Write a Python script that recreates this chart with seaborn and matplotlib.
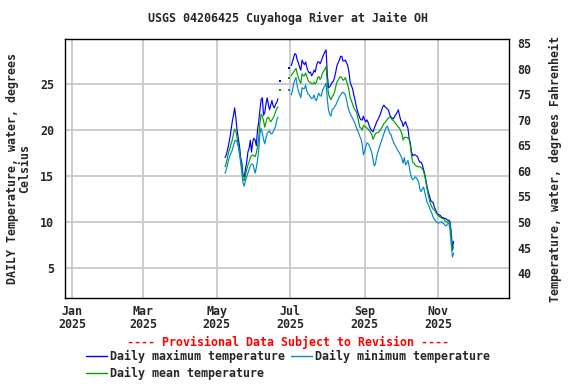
import matplotlib
matplotlib.use("Agg")
import matplotlib.pyplot as plt
import matplotlib.dates as mdates
import numpy as np
import pandas as pd
import seaborn as sns

nan = np.nan

# daily values, starting 2025-05-08 (deg C)
START_DATE = "2025-05-08"

max_temp = [
    17.0, 17.3, 17.8, 18.4, 19.1, 20.0, 20.9, 21.6, 22.4, 21.3,
    20.0, 19.1, 18.3, 17.0, 16.4, 15.0, 14.9, 15.8, 16.5, 17.6,
    18.0, 18.9, 17.6, 18.7, 19.1, 18.9, 18.3, 20.0, 20.9, 22.2,
    23.3, 23.5, 21.6, 21.9, 22.8, 23.5, 22.8, 22.2, 22.7, 23.2,
    22.6, 22.4, 22.8, 23.0, 23.4, nan, 25.3, nan, nan, nan,
    nan, nan, nan, 26.7, nan, 27.0, 27.4, 27.9, 28.3, 28.2,
    27.6, 27.3, 26.8, 26.5, 27.6, 27.3, 27.1, 27.4, 26.8, 26.4,
    26.2, 26.3, 25.9, 26.1, 26.5, 26.3, 27.0, 27.4, 27.4, 27.2,
    27.5, 27.9, 28.2, 28.5, 28.7, 26.0, 24.6, 24.7, 24.9, 25.2,
    25.3, 25.7, 26.3, 27.0, 27.3, 27.6, 28.0, 28.0, 27.5, 27.5,
    27.6, 27.3, 27.0, 26.3, 25.2, 24.8, 24.5, 23.8, 23.3, 22.6,
    22.1, 21.7, 21.3, 21.1, 21.1, 21.5, 21.1, 20.9, 21.1, 20.8,
    20.4, 20.1, 19.9, 19.8, 20.2, 20.5, 20.9, 21.1, 21.4, 21.7,
    22.1, 22.5, 22.7, 22.5, 22.4, 22.3, 22.1, 21.6, 21.4, 21.3,
    21.2, 21.5, 21.7, 21.9, 22.2, 21.6, 21.1, 20.9, 20.4, 20.7,
    20.9, 20.5, 20.2, 19.1, 18.6, 17.6, 17.2, 17.3, 17.3, 17.2,
    17.1, 16.7, 16.5, 16.5, 16.2, 15.7, 15.2, 14.5, 13.8, 13.2,
    12.8, 12.3, 12.2, 12.1, 11.6, 11.3, 11.0, 10.8, 10.8, 10.7,
    10.5, 10.5, 10.4, 10.4, 10.3, 10.2, 10.2, 10.0, 8.8, 7.2,
    7.9,
]

mean_temp = [
    16.0, 16.4, 17.0, 17.6, 18.0, 18.5, 18.9, 19.6, 20.1, 19.9,
    19.2, 18.4, 17.6, 16.7, 15.9, 14.7, 14.5, 15.1, 15.7, 16.2,
    16.5, 17.0, 17.2, 17.3, 17.2, 17.1, 17.5, 18.2, 19.1, 20.8,
    21.7, 21.5, 21.0, 20.3, 20.8, 21.3, 21.4, 21.1, 20.9, 21.1,
    21.3, 21.6, 22.0, 22.3, 22.5, nan, 24.3, nan, nan, nan,
    nan, nan, nan, 25.6, nan, 25.9, 26.1, 26.3, 26.5, 26.7,
    26.1, 25.7, 25.3, 25.1, 26.1, 25.9, 25.9, 26.2, 25.8, 25.4,
    25.2, 25.2, 25.0, 25.0, 25.2, 25.0, 25.2, 25.7, 25.8, 25.5,
    25.7, 26.2, 26.4, 26.6, 26.9, 25.1, 23.9, 23.5, 23.3, 23.6,
    23.8, 24.1, 24.7, 25.2, 25.4, 25.7, 25.8, 25.7, 25.4, 25.5,
    25.7, 25.3, 24.9, 24.3, 23.5, 23.2, 22.8, 22.4, 22.2, 22.0,
    21.6, 20.9, 20.3, 20.2, 20.0, 20.5, 20.4, 20.3, 20.2, 20.1,
    19.9, 19.7, 19.5, 19.0, 19.3, 19.6, 19.7, 19.7, 19.8, 20.0,
    20.2, 20.4, 20.7, 20.8, 21.0, 21.2, 21.3, 21.4, 21.3, 21.1,
    21.0, 20.8, 20.7, 20.5, 20.3, 20.2, 19.9, 19.6, 18.9, 19.2,
    19.2, 19.2, 19.1, 19.0, 18.3, 17.2, 16.5, 16.4, 16.2, 16.1,
    16.0, 16.0, 16.0, 15.9, 15.8, 15.5, 15.0, 14.3, 13.5, 12.9,
    12.3, 11.9, 11.6, 11.4, 11.3, 11.1, 10.9, 10.7, 10.6, 10.5,
    10.4, 10.4, 10.3, 10.1, 10.0, 10.0, 10.0, 9.9, 8.3, 6.9,
    7.3,
]

min_temp = [
    15.3, 15.7, 16.2, 16.8, 17.2, 17.5, 17.8, 18.3, 18.8, 18.9,
    18.7, 18.2, 17.4, 16.4, 15.3, 14.2, 13.9, 14.5, 14.9, 15.3,
    15.7, 16.1, 16.3, 16.3, 15.9, 15.3, 15.9, 16.7, 17.8, 19.6,
    20.2, 19.6, 19.0, 18.5, 19.1, 19.6, 19.8, 19.9, 19.6, 19.6,
    19.8, 20.1, 20.4, 21.1, 21.4, nan, nan, nan, nan, nan,
    nan, nan, nan, 24.3, nan, 23.8, 24.3, 25.0, 25.4, 25.7,
    24.8, 24.2, 23.9, 23.5, 24.6, 24.5, 24.5, 24.9, 24.2, 23.9,
    23.8, 23.6, 23.4, 23.5, 23.8, 23.3, 23.2, 23.7, 24.0, 23.7,
    23.7, 24.3, 24.6, 24.8, 25.1, 23.3, 22.2, 21.7, 21.5, 22.2,
    22.3, 22.5, 22.7, 23.0, 23.3, 23.6, 23.8, 24.0, 24.1, 24.0,
    23.8, 23.3, 22.6, 22.1, 21.8, 21.5, 21.3, 21.0, 20.7, 20.3,
    20.0, 19.7, 19.3, 19.0, 18.4, 17.3, 17.7, 18.2, 18.6, 18.5,
    18.3, 17.9, 17.5, 16.8, 16.1, 16.3, 17.1, 17.6, 18.0, 18.4,
    18.8, 19.2, 19.6, 20.0, 20.3, 20.4, 20.0, 19.6, 19.5, 19.0,
    18.7, 18.4, 18.2, 17.9, 17.7, 17.5, 17.2, 16.9, 16.4, 17.0,
    16.2, 16.4, 16.7, 16.1, 15.3, 14.8, 14.6, 14.7, 14.9, 14.8,
    14.6, 14.3, 13.5, 13.3, 13.6, 13.8, 13.2, 12.6, 12.1, 11.9,
    11.5, 11.2, 10.9, 10.5, 10.3, 10.1, 10.0, 9.9, 9.9, 10.0,
    10.0, 9.9, 9.8, 9.6, 9.6, 9.8, 9.9, 9.1, 7.5, 6.2,
    6.6,
]

SERIES = [
    ("Daily maximum temperature", max_temp, "#0000ff"),
    ("Daily mean temperature", mean_temp, "#00a000"),
    ("Daily minimum temperature", min_temp, "#0088cc"),
]

month_ticks = ["2025-01-01", "2025-03-01", "2025-05-01",
               "2025-07-01", "2025-09-01", "2025-11-01"]
celsius_ticks = [5, 10, 15, 20, 25]
fahrenheit_ticks = [40, 45, 50, 55, 60, 65, 70, 75, 80, 85]

FONT = "DejaVu Sans Mono"
FS = 8.4


def to_frame(values):
    dates = pd.date_range(START_DATE, periods=len(values), freq="D")
    df = pd.DataFrame({"date": dates, "value": values})
    # label runs of consecutive non-missing days so gaps stay open
    missing = df["value"].isna()
    df["seg"] = missing.cumsum()
    df = df[~missing].copy()
    df["n"] = df.groupby("seg")["value"].transform("size")
    return df


sns.set_style("white")
plt.rcParams["font.family"] = [FONT]
plt.rcParams["font.weight"] = "bold"

fig = plt.figure(figsize=(5.76, 3.84), dpi=100)
ax = fig.add_axes([65 / 576, 1 - 298 / 384, 444 / 576, 259 / 384])

handles = []
for label, values, color in SERIES:
    df = to_frame(values)
    runs = df[df["n"] > 1]
    sns.lineplot(data=runs, x="date", y="value", units="seg", estimator=None,
                 color=color, linewidth=0.85, ax=ax, legend=False)
    lone = df[df["n"] == 1]
    if not lone.empty:
        sns.scatterplot(data=lone, x="date", y="value", color=color, marker="s",
                        s=2, linewidth=0, ax=ax, legend=False)
    handles.append(plt.Line2D([], [], color=color, linewidth=1.0, label=label))

ax.set_xlim(pd.Timestamp("2024-12-26"), pd.Timestamp("2025-12-30"))
ylo, yhi = 1.74, 29.89
ax.set_ylim(ylo, yhi)
ax.set_yticks(celsius_ticks)
ax.set_xticks(pd.to_datetime(month_ticks))
ax.xaxis.set_major_formatter(mdates.DateFormatter("%b\n%Y"))
ax.grid(True, color="#c8c8c8", linewidth=1.3)
ax.set_axisbelow(True)
ax.tick_params(axis="y", length=0, labelsize=FS, pad=8)
ax.tick_params(axis="x", length=0, labelsize=FS, pad=5)
for t in ax.get_xticklabels():
    t.set_linespacing(1.05)
ax.set_xlabel("")
ax.set_ylabel("DAILY Temperature, water, degrees\nCelsius", fontsize=FS,
              fontweight="bold", labelpad=6, linespacing=1.0)
for sp in ax.spines.values():
    sp.set_color("black")
    sp.set_linewidth(1.0)

ax2 = ax.twinx()
ax2.set_ylim(ylo * 9 / 5 + 32, yhi * 9 / 5 + 32)
ax2.set_yticks(fahrenheit_ticks)
ax2.tick_params(length=0, labelsize=FS, pad=6)
ax2.set_ylabel("Temperature, water, degrees Fahrenheit", fontsize=FS,
               fontweight="bold", labelpad=13)
for sp in ax2.spines.values():
    sp.set_visible(False)

fig.text(0.5, 1 - 18 / 384, "USGS 04206425 Cuyahoga River at Jaite OH",
         ha="center", va="center", fontsize=FS, fontweight="bold")
fig.text(0.5, 1 - 342 / 384, "---- Provisional Data Subject to Revision ----",
         ha="center", va="center", fontsize=FS, fontweight="bold", color="red")

# max / mean fill the first column, min the second
fig.legend(handles=handles, loc="upper left",
           bbox_to_anchor=(86 / 576, 1 - 350 / 384),
           ncol=2, frameon=False, fontsize=FS, handlelength=1.8,
           handletextpad=0.3, columnspacing=0.45, labelspacing=0.35,
           borderpad=0, borderaxespad=0)

fig.savefig("out.png", dpi=100)
